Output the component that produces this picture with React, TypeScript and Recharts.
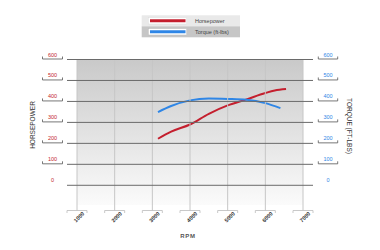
import React from 'react';
import { ComposedChart, Line, XAxis, YAxis, CartesianGrid } from 'recharts';

const rpmTicks = [1000, 2000, 3000, 4000, 5000, 6000, 7000];
const powerTicks = [0, 100, 200, 300, 400, 500, 600];

const hpRpm = [3150, 3500, 4000, 4500, 5000, 5500, 6000, 6250, 6550];
const hpValues = [222, 256, 290, 341, 381, 410, 440, 452, 459];

const tqRpm = [3150, 3500, 4000, 4500, 5000, 5500, 6000, 6400];
const tqValues = [349, 378, 405, 414, 412, 408, 392, 368];

const hpData = hpRpm.map((r, i) => ({ rpm: r, hp: hpValues[i] }));
const tqData = tqRpm.map((r, i) => ({ rpm: r, tq: tqValues[i] }));

const RED = '#c41f2e';
const BLUE = '#2f86e6';
const FONT = '"Liberation Sans", Arial, sans-serif';

const LeftTick = (props: any) => {
  const { y, payload } = props;
  const v = payload.value;
  return (
    <g>
      <line x1={67} x2={313} y1={y} y2={y} stroke="#6a6a6a" strokeWidth={1} />
      <text x={52.5} y={y - 5} textAnchor="middle" dominantBaseline="central" fontSize={5.5} fontFamily={FONT} fill={RED}>{v}</text>
      {v !== 0 && (
        <path d={`M42.5 ${y - 3}V${y - 0.5}H62.5V${y - 3}`} stroke="#555" fill="none" strokeWidth={0.8} />
      )}
    </g>
  );
};

const RightTick = (props: any) => {
  const { y, payload } = props;
  const v = payload.value;
  return (
    <g>
      <text x={328} y={y - 5} textAnchor="middle" dominantBaseline="central" fontSize={5.5} fontFamily={FONT} fill={BLUE}>{v}</text>
      {v !== 0 && (
        <path d={`M318.3 ${y - 3}V${y - 0.5}H337.7V${y - 3}`} stroke="#555" fill="none" strokeWidth={0.8} />
      )}
    </g>
  );
};

const BottomTick = (props: any) => {
  const { x, payload } = props;
  return (
    <g>
      <line x1={x} x2={x} y1={60} y2={210.5} stroke="#c6c6c6" strokeWidth={1} />
      <path d={`M${x - 10} 213V210.5H${x + 10}V213`} stroke="#bbb" fill="none" strokeWidth={0.8} />
      <text x={x + 2} y={217} textAnchor="middle" dominantBaseline="central" fontSize={5.5} fontWeight="bold" fontFamily={FONT} fill="#333" transform={`rotate(-45 ${x + 2} 217)`}>{payload.value}</text>
    </g>
  );
};

export default function App() {
  return (
    <div style={{ position: 'absolute', left: 0, top: 0, width: 380, height: 250, background: '#fff' }}>
      <ComposedChart width={380} height={250} margin={{ top: 59.5, left: 76, right: 76, bottom: 44 }}>
        <defs>
          <linearGradient id="bgGrad" x1="0" y1="0" x2="0" y2="1">
            <stop offset="0%" stopColor="#c9c9c9" />
            <stop offset="100%" stopColor="#fbfbfb" />
          </linearGradient>
        </defs>
        <CartesianGrid horizontal={false} vertical={false} fill="url(#bgGrad)" fillOpacity={1} stroke="none" />
        <XAxis type="number" dataKey="rpm" domain={[1000, 7000]} ticks={rpmTicks} height={1} axisLine={false} tickLine={false} tick={(p: any) => <BottomTick {...p} />} interval={0} allowDuplicatedCategory={false} />
        <YAxis yAxisId="hp" type="number" domain={[-94, 600]} ticks={powerTicks} width={1} axisLine={false} tickLine={false} tick={(p: any) => <LeftTick {...p} />} interval={0} />
        <YAxis yAxisId="tq" type="number" orientation="right" domain={[-94, 600]} ticks={powerTicks} width={1} axisLine={false} tickLine={false} tick={(p: any) => <RightTick {...p} />} interval={0} />
        <Line yAxisId="hp" data={hpData} dataKey="hp" type="monotone" stroke={RED} strokeWidth={2} dot={false} isAnimationActive={false} />
        <Line yAxisId="tq" data={tqData} dataKey="tq" type="monotone" stroke={BLUE} strokeWidth={2} dot={false} isAnimationActive={false} />

        <text x={32} y={125} textAnchor="middle" dominantBaseline="central" fontSize={6.5} fontFamily={FONT} fill="#333" transform="rotate(-90 32 125)">HORSEPOWER</text>
        <text x={349} y={126} textAnchor="middle" dominantBaseline="central" fontSize={6.5} fontFamily={FONT} fill="#333" transform="rotate(90 349 126)">TORQUE (FT-LBS)</text>
        <text x={188} y={236} textAnchor="middle" dominantBaseline="central" fontSize={6} fontWeight="bold" fontFamily={FONT} fill="#555" letterSpacing={0.8}>RPM</text>

        <rect x={141.7} y={15.3} width={98.3} height={11} fill="#e9e9e9" />
        <rect x={141.7} y={26.3} width={98.3} height={11} fill="#c6c6c6" />
        <rect x={148.3} y={17.6} width={38.4} height={6.4} fill="#fff" stroke="#ddd" strokeWidth={0.5} />
        <line x1={150} x2={185.5} y1={20.8} y2={20.8} stroke={RED} strokeWidth={3} />
        <rect x={148.3} y={28.6} width={38.4} height={6.4} fill="#fff" stroke="#bbb" strokeWidth={0.5} />
        <line x1={150} x2={185.5} y1={31.8} y2={31.8} stroke={BLUE} strokeWidth={3} />
        <text x={195} y={20.8} dominantBaseline="central" fontSize={5.5} fontFamily={FONT} fill="#444">Horsepower</text>
        <text x={195} y={31.8} dominantBaseline="central" fontSize={5.5} fontFamily={FONT} fill="#444">Torque (ft-lbs)</text>
      </ComposedChart>
    </div>
  );
}
